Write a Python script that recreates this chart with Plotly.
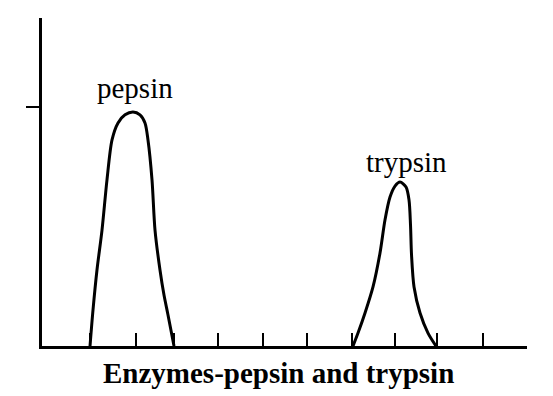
import plotly.graph_objects as go

# Data (x in axis units, y relative to the marked y tick = 1)
pepsin_x = [1.089, 1.157, 1.247, 1.361, 1.474, 1.588, 1.724, 1.883, 2.064, 2.223, 2.336, 2.404,
            2.495, 2.563, 2.676, 2.767, 2.858, 2.994]
pepsin_y = [0.0, 0.151, 0.318, 0.485, 0.695, 0.862, 0.933, 0.967, 0.979, 0.967, 0.933, 0.862,
            0.695, 0.485, 0.318, 0.213, 0.130, 0.0]
trypsin_x = [7.054, 7.167, 7.326, 7.507, 7.666, 7.779, 7.893, 8.006, 8.120, 8.256, 8.324, 8.358,
             8.381, 8.438, 8.574, 8.755, 8.936]
trypsin_y = [0.0, 0.054, 0.138, 0.247, 0.389, 0.527, 0.623, 0.669, 0.686, 0.665, 0.611, 0.506,
             0.381, 0.247, 0.138, 0.054, 0.0]
x_ticks = [1.09, 2.13, 3.0, 3.99, 5.01, 6.01, 7.03, 8.0, 8.96, 10.0, 11.0]
y_ticks = [1.0]
labels = ["pepsin", "trypsin"]
label_pos = [(2.109, 1.079), (8.256, 0.770)]
title = "Enzymes-pepsin and trypsin"

SERIF = "Liberation Serif, Times New Roman, Times, serif"

fig = go.Figure()
fig.add_trace(go.Scatter(x=pepsin_x, y=pepsin_y, mode="lines",
                         line=dict(color="black", width=3, shape="spline", smoothing=0.8),
                         hoverinfo="skip"))
fig.add_trace(go.Scatter(x=trypsin_x, y=trypsin_y, mode="lines",
                         line=dict(color="black", width=3, shape="spline", smoothing=0.8),
                         hoverinfo="skip"))

for t, (x, y) in zip(labels, label_pos):
    fig.add_annotation(x=x, y=y, xref="x", yref="y", text=t, showarrow=False,
                       font=dict(family=SERIF, size=29, color="black"),
                       xanchor="center", yanchor="middle")

fig.add_annotation(x=0.487, y=-0.082, xref="paper", yref="paper", text="<b>" + title + "</b>",
                   showarrow=False, font=dict(family=SERIF, size=29, color="black"),
                   xanchor="center", yanchor="middle")

fig.update_layout(
    width=545, height=388,
    margin=dict(l=34, r=26, t=10, b=50),
    paper_bgcolor="white", plot_bgcolor="white",
    showlegend=False,
    font=dict(family=SERIF),
    xaxis=dict(range=[0, 11], showgrid=False, zeroline=False, showline=True, linecolor="black",
               linewidth=2.5, ticks="inside", ticklen=13, tickwidth=2, tickcolor="black",
               tickvals=x_ticks, showticklabels=False, fixedrange=True),
    yaxis=dict(range=[0, 1.372], showgrid=False, zeroline=False, showline=True, linecolor="black",
               linewidth=2.5, ticks="outside", ticklen=13, tickwidth=2, tickcolor="black",
               tickvals=y_ticks, showticklabels=False, fixedrange=True),
)

fig.write_html("out.html", config={"displayModeBar": False})
